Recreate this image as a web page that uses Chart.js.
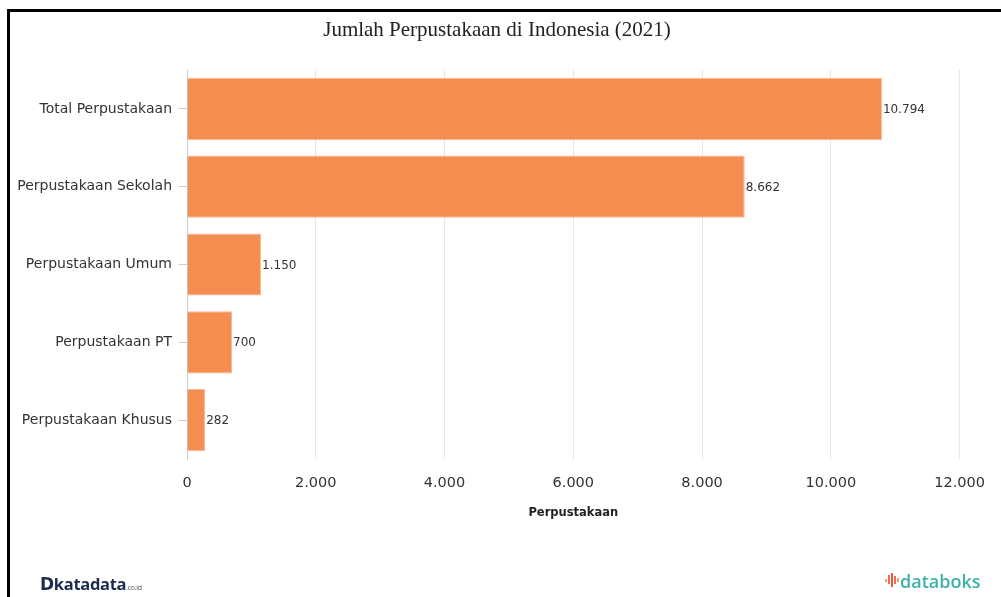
<!DOCTYPE html>
<html>
<head>
<meta charset="utf-8">
<script src="https://cdn.jsdelivr.net/npm/chart.js@4"></script>
<style>
    html, body { margin: 0; padding: 0; background: #fff; }
    #wrap { position: relative; width: 1001px; height: 597px; overflow: hidden; }
    #frame {
        position: absolute; left: 7px; top: 9px; width: 1100px; height: 700px;
        border: 3px solid #000; box-sizing: border-box;
    }
    #chart { position: absolute; left: 0; top: 0; }
    .logo-kd {
        position: absolute; left: 40px; top: 572px; font-family: "Open Sans", sans-serif;
        font-weight: 700; font-size: 16.5px; color: #1d2a4d; letter-spacing: -0.3px;
    }
    .logo-kd .d { font-family: "DejaVu Sans", sans-serif; font-weight: 900; font-size: 17px; }
    .logo-kd small { font-size: 7px; font-weight: 400; color: #555; }
    .logo-db {
        position: absolute; left: 885px; top: 569px; font-family: "Open Sans", sans-serif;
        font-weight: 600; font-size: 18px; color: #3db2a8;
    }
    .logo-db .ic { display: inline-block; width: 14px; height: 16px; position: relative; margin-right: 1px; }
    .logo-db .ic i { position: absolute; width: 2px; background: #ee6b4d; }
</style>
</head>
<body>
<div id="wrap">
    <div id="frame"></div>
    <canvas id="chart" width="1001" height="597"></canvas>
    <div class="logo-kd"><span class="d">D</span>katadata<small>.co.id</small></div>
    <div class="logo-db"><span class="ic"><i style="left:0;top:7px;height:3px;background:#f5a25d"></i><i style="left:3px;top:3px;height:9px"></i><i style="left:6px;top:1px;height:14px;background:#e8534a"></i><i style="left:9px;top:4px;height:8px"></i><i style="left:12px;top:6px;height:4px;background:#f5a25d"></i></span>databoks</div>
</div>
<script>
    const categories = [
        'Total Perpustakaan',
        'Perpustakaan Sekolah',
        'Perpustakaan Umum',
        'Perpustakaan PT',
        'Perpustakaan Khusus'
    ];
    const values = [10794, 8662, 1150, 700, 282];
    const xTicks = [0, 2000, 4000, 6000, 8000, 10000, 12000];
    const TITLE = 'Jumlah Perpustakaan di Indonesia (2021)';

    const BAR_COLOR = 'rgb(245,141,81)';
    const BAR_BORDER = 'rgb(250,185,148)';

    const fmt = (v) => String(v).replace(/\B(?=(\d{3})+(?!\d))/g, '.');

    // value next to each bar end, plus the title centred on the whole card
    const extraText = {
        id: 'extraText',
        afterDatasetsDraw(chart) {
            const ctx = chart.ctx;
            const meta = chart.getDatasetMeta(0);
            ctx.save();
            ctx.font = '12px "DejaVu Sans"';
            ctx.fillStyle = '#333';
            ctx.textAlign = 'left';
            ctx.textBaseline = 'middle';
            meta.data.forEach((bar, i) => {
                ctx.fillText(fmt(values[i]), bar.x + 1, bar.y + 1);
            });

            ctx.font = '21px "Liberation Serif"';
            ctx.fillStyle = '#222';
            ctx.textAlign = 'center';
            ctx.fillText(TITLE, 497, 30);
            ctx.restore();
        }
    };

    new Chart(document.getElementById('chart'), {
        type: 'bar',
        data: {
            labels: categories,
            datasets: [{
                data: values,
                backgroundColor: BAR_COLOR,
                borderColor: BAR_BORDER,
                borderWidth: 1,
                barPercentage: 0.8,
                categoryPercentage: 1.0
            }]
        },
        plugins: [extraText],
        options: {
            indexAxis: 'y',
            responsive: false,
            animation: false,
            layout: { padding: { left: 0, right: 41, top: 70, bottom: 0 } },
            plugins: {
                legend: { display: false },
                tooltip: { enabled: false },
                title: { display: false }
            },
            scales: {
                x: {
                    min: 0,
                    max: 12000,
                    afterBuildTicks: (scale) => {
                        scale.ticks = xTicks.map(v => ({ value: v }));
                    },
                    afterFit: (scale) => { scale.height = 138; },
                    border: { display: false },
                    grid: { color: '#e6e6e6', drawTicks: false },
                    ticks: {
                        color: '#333',
                        padding: 16,
                        font: { family: '"DejaVu Sans"', size: 14.5 },
                        callback: (v) => fmt(v)
                    },
                    title: {
                        display: true,
                        text: 'Perpustakaan',
                        color: '#222',
                        font: { family: '"DejaVu Sans"', size: 11.5, weight: 'bold' },
                        padding: { top: 4, bottom: 77 }
                    }
                },
                y: {
                    afterFit: (scale) => { scale.width = 187; },
                    border: { display: true, color: '#ccc' },
                    grid: { offset: false, drawOnChartArea: false, tickLength: 8, color: '#ccc' },
                    ticks: {
                        color: '#333',
                        padding: 7,
                        font: { family: '"DejaVu Sans"', size: 14 }
                    }
                }
            }
        }
    });
</script>
</body>
</html>
